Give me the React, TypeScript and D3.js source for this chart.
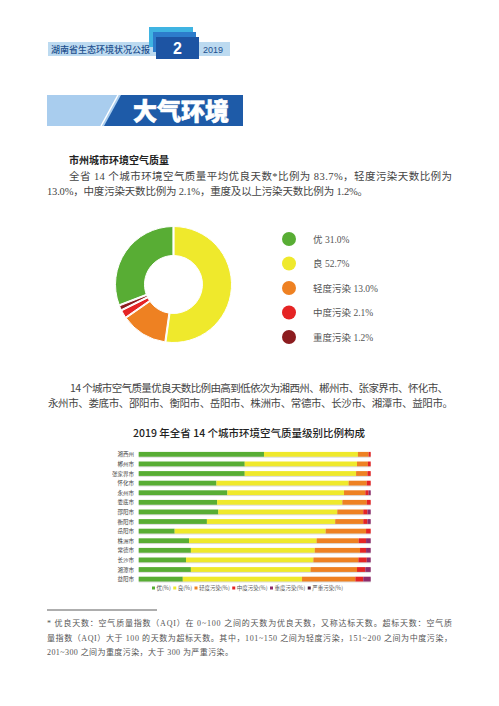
import React from "react";
import * as d3 from "d3";

const pieLabels = ["优", "良", "轻度污染", "中度污染", "重度污染"];
const pieValues = [31.0, 52.7, 13.0, 2.1, 1.2];
const pieColors = ["#58ad34", "#efe92c", "#ee8122", "#e52424", "#8c1c1f"];
const pieDrawOrder = [1, 2, 3, 4, 0];

const cities = ["湘西州", "郴州市", "张家界市", "怀化市", "永州市", "娄底市", "邵阳市", "衡阳市", "岳阳市", "株洲市", "常德市", "长沙市", "湘潭市", "益阳市"];
const seriesNames = ["优(%)", "良(%)", "轻度污染(%)", "中度污染(%)", "重度污染(%)", "严重污染(%)"];
const seriesColors = ["#58ad34", "#efe92c", "#ee8122", "#e52424", "#8e2c6c", "#4a1d3c"];
const you = [54.0, 45.7, 45.7, 33.5, 38.2, 33.8, 34.3, 29.4, 15.5, 21.7, 22.5, 20.4, 22.5, 19.0];
const liang = [40.5, 48.4, 48.0, 57.0, 50.3, 54.0, 51.3, 55.3, 65.1, 55.0, 53.4, 54.9, 51.6, 51.4];
const qingdu = [4.6, 4.7, 4.9, 7.8, 9.2, 10.5, 11.2, 12.1, 17.4, 18.1, 19.5, 19.4, 20.0, 23.0];
const zhongdu = [0.9, 1.2, 1.4, 1.7, 1.4, 1.7, 1.8, 1.8, 2.0, 3.2, 2.6, 3.6, 3.6, 3.4];
const zhongdu2 = [0, 0, 0, 0, 0.9, 0, 1.4, 1.4, 0, 2.0, 2.0, 1.7, 2.3, 3.2];
const yanzhong = [0, 0, 0, 0, 0, 0, 0, 0, 0, 0, 0, 0, 0, 0];

const para1 = [
  "全省 14 个城市环境空气质量平均优良天数*比例为 83.7%，轻度污染天数比例为",
  "13.0%，中度污染天数比例为 2.1%，重度及以上污染天数比例为 1.2%。",
];
const para2 = [
  "14 个城市空气质量优良天数比例由高到低依次为湘西州、郴州市、张家界市、怀化市、",
  "永州市、娄底市、邵阳市、衡阳市、岳阳市、株洲市、常德市、长沙市、湘潭市、益阳市。",
];
const footnote = [
  "* 优良天数：空气质量指数（AQI）在 0~100 之间的天数为优良天数，又称达标天数。超标天数：空气质",
  "量指数（AQI）大于 100 的天数为超标天数。其中，101~150 之间为轻度污染，151~200 之间为中度污染，",
  "201~300 之间为重度污染，大于 300 为严重污染。",
];

const SERIF = "'Liberation Serif','Noto Sans CJK SC',serif";
const SANS = "'Noto Sans CJK SC','Noto Sans',sans-serif";

function estWidth(s: string, fs: number) {
  let w = 0;
  for (const ch of s) w += /[\u3000-\u9fff\uff00-\uffef]/.test(ch) ? fs : fs * 0.5;
  return w;
}

export default function App() {
  // donut
  const cx = 173.5, cy = 284.5;
  const pie = d3.pie<number>().sort(null).value((i) => pieValues[i]).startAngle(0).endAngle(Math.PI * 2).padAngle(0.018);
  const arcs = pie(pieDrawOrder);
  const arc = d3.arc<d3.PieArcDatum<number>>().innerRadius(29).outerRadius(58);
  const legendY = d3.scalePoint<string>().domain(pieLabels).range([239, 337]);

  // stacked bars
  const seriesData = [you, liang, qingdu, zhongdu, zhongdu2, yanzhong];
  const rows = cities.map((c, i) => {
    const o: any = { city: c };
    seriesNames.forEach((s, k) => (o[s] = seriesData[k][i]));
    return o;
  });
  const stack = d3.stack<any>().keys(seriesNames)(rows);
  const x = d3.scaleLinear().domain([0, 100]).range([138.7, 370.7]);
  const y = d3.scaleBand<string>().domain(cities).range([449.5, 583.9]).paddingInner(0.5).paddingOuter(0.25);
  const legFs = 5.5;
  const legPos: number[] = [];
  let acc = 152;
  seriesNames.forEach((s) => {
    legPos.push(acc);
    acc += 4.5 + estWidth(s, legFs) + 3;
  });

  return (
    <svg width={499} height={706} style={{ position: "absolute", left: 0, top: 0, background: "#fff" }}>
      <rect width={499} height={706} fill="#fff" />
      {/* header */}
      <rect x={48} y={42} width={182} height={14} fill="#bcdaf0" />
      <text x={51} y={52.5} fontSize={9} fill="#1d4f8e" fontFamily={SANS} fontWeight={500}>湖南省生态环境状况公报</text>
      <rect x={149} y={27} width={44} height={20} fill="#3fb4e2" />
      <rect x={153} y={32} width={43} height={20} fill="#2d7ccb" />
      <rect x={156} y={37} width={43} height={22} fill="#1d54a3" />
      <text x={177.5} y={54} textAnchor="middle" fontSize={16} fontWeight={700} fill="#fff" fontFamily="'Liberation Sans',Arial,sans-serif">2</text>
      <text x={203} y={52.5} fontSize={9} fill="#1d4f8e" fontFamily="'Liberation Sans',Arial,sans-serif">2019</text>

      {/* section banner */}
      <rect x={47} y={95} width={196} height={31} fill="#a9cdee" />
      <polygon points="121,95 243,95 243,126 104,126" fill="#1e5ba8" />
      <line x1={118} y1={95} x2={101} y2={126} stroke="#fff" strokeWidth={1.5} />
      <text x={181} y={120} textAnchor="middle" fontSize={24} fontWeight={900} fill="#fff" fontFamily={SANS} stroke="#fff" strokeWidth={0.6}>大气环境</text>

      {/* paragraph 1 */}
      <text x={69} y={164} fontSize={10} fontWeight={700} fill="#222" fontFamily={SANS}>市州城市环境空气质量</text>
      <text x={69} y={180} fontSize={10.5} fill="#444" fontFamily={SERIF} textLength={383} lengthAdjust="spacing">{para1[0]}</text>
      <text x={47} y={194.5} fontSize={10.5} fill="#444" fontFamily={SERIF} textLength={321} lengthAdjust="spacing">{para1[1]}</text>

      {/* donut */}
      <g transform={`translate(${cx},${cy})`}>
        {arcs.map((a, i) => (
          <path key={i} d={arc(a) as string} fill={pieColors[a.data]} stroke="#fff" strokeWidth={1} />
        ))}
      </g>
      {pieLabels.map((l, i) => (
        <g key={l}>
          <circle cx={289} cy={legendY(l)} r={7} fill={pieColors[i]} />
          <text x={313} y={(legendY(l) as number) + 3.5} fontSize={9.5} fill="#555" fontFamily={SERIF}>{`${l} ${pieValues[i].toFixed(1)}%`}</text>
        </g>
      ))}

      {/* paragraph 2 */}
      <text x={70} y={392} fontSize={10.5} fill="#444" fontFamily={SANS} textLength={378} lengthAdjust="spacing">{para2[0]}</text>
      <text x={48} y={407} fontSize={10.5} fill="#444" fontFamily={SANS} textLength={405} lengthAdjust="spacing">{para2[1]}</text>

      {/* bar chart */}
      <text x={249} y={437} textAnchor="middle" fontSize={10.5} fill="#222" fontFamily={SANS} fontWeight={500}>2019 年全省 14 个城市环境空气质量级别比例构成</text>
      {cities.map((c) => (
        <g key={c}>
          <rect x={x(0)} y={(y(c) as number) + 1} width={x(100) - x(0)} height={y.bandwidth()} fill="#dcdcdc" />
          <text x={134} y={(y(c) as number) + y.bandwidth() / 2 + 2} textAnchor="end" fontSize={5.5} fill="#444" fontFamily={SANS}>{c}</text>
        </g>
      ))}
      {stack.map((s, k) => (
        <g key={s.key} fill={seriesColors[k]}>
          {s.map((d, i) => (
            <rect key={i} x={x(d[0])} y={y(cities[i])} width={Math.max(0, x(d[1]) - x(d[0]))} height={y.bandwidth()} />
          ))}
        </g>
      ))}
      {seriesNames.map((s, k) => (
        <g key={s}>
          <rect x={legPos[k]} y={586.5} width={3} height={3} fill={seriesColors[k]} />
          <text x={legPos[k] + 4.5} y={590} fontSize={legFs} fill="#555" fontFamily={SANS}>{s}</text>
        </g>
      ))}

      {/* footnote */}
      <line x1={47} y1={610} x2={157} y2={610} stroke="#333" strokeWidth={0.8} />
      <text x={47} y={626} fontSize={8} fill="#555" fontFamily={SERIF} textLength={405} lengthAdjust="spacing">{footnote[0]}</text>
      <text x={47} y={640.5} fontSize={8} fill="#555" fontFamily={SERIF} textLength={405} lengthAdjust="spacing">{footnote[1]}</text>
      <text x={47} y={655} fontSize={8} fill="#555" fontFamily={SERIF} textLength={186} lengthAdjust="spacing">{footnote[2]}</text>
    </svg>
  );
}
